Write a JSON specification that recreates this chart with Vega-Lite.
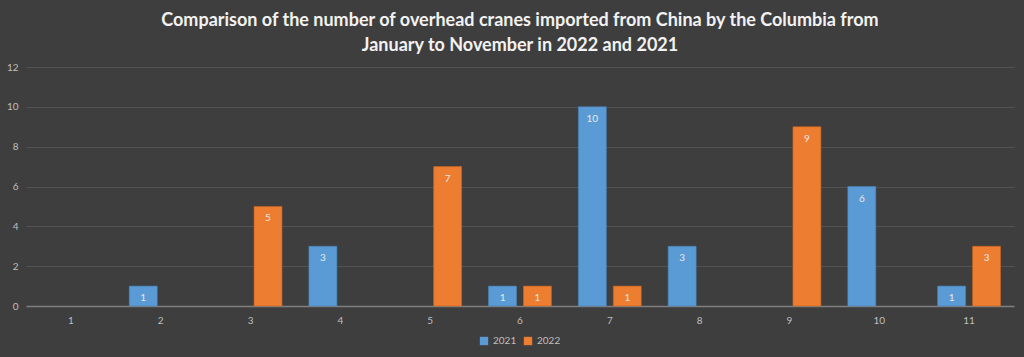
{
  "$schema": "https://vega.github.io/schema/vega-lite/v6.json",
  "autosize": {"type": "fit", "contains": "padding"},
  "width": 1024,
  "height": 357,
  "padding": {"left": 6, "right": 10, "top": 12, "bottom": 11},
  "background": "#3e3e3e",
  "config": {
    "view": {"stroke": null},
    "legend": {"layout": {"bottom": {"anchor": "middle"}}}
  },
  "title": {
    "text": ["Comparison of the number of overhead cranes imported from China by the Columbia from", "January to November in 2022 and 2021"],
    "font": "Lato",
    "fontSize": 18,
    "fontWeight": "bold",
    "color": "#f2f2f2",
    "lineHeight": 25,
    "anchor": "middle",
    "offset": 7
  },
  "data": {
    "values": [
      {"month": 2, "year": "2021", "value": 1},
      {"month": 3, "year": "2022", "value": 5},
      {"month": 4, "year": "2021", "value": 3},
      {"month": 5, "year": "2022", "value": 7},
      {"month": 6, "year": "2021", "value": 1},
      {"month": 6, "year": "2022", "value": 1},
      {"month": 7, "year": "2021", "value": 10},
      {"month": 7, "year": "2022", "value": 1},
      {"month": 8, "year": "2021", "value": 3},
      {"month": 9, "year": "2022", "value": 9},
      {"month": 10, "year": "2021", "value": 6},
      {"month": 11, "year": "2021", "value": 1},
      {"month": 11, "year": "2022", "value": 3}
    ]
  },
  "encoding": {
    "x": {
      "field": "month",
      "type": "ordinal",
      "scale": {"domain": [1, 2, 3, 4, 5, 6, 7, 8, 9, 10, 11], "paddingInner": 0.3, "paddingOuter": 0.15},
      "axis": {
        "title": null,
        "labelAngle": 0,
        "labelColor": "#bfbfbf",
        "labelFont": "Lato",
        "labelFontSize": 10,
        "ticks": false,
        "domainColor": "#7f7f7f",
        "domainWidth": 1.5,
        "labelPadding": 9
      }
    },
    "xOffset": {"field": "year", "type": "nominal", "scale": {"domain": ["2021", "2022"], "paddingInner": 0.2}},
    "y": {
      "field": "value",
      "type": "quantitative",
      "scale": {"domain": [0, 12]},
      "axis": {
        "title": null,
        "values": [0, 2, 4, 6, 8, 10, 12],
        "labelColor": "#bfbfbf",
        "labelFont": "Lato",
        "labelFontSize": 10,
        "ticks": false,
        "domain": false,
        "gridColor": "#525252",
        "gridWidth": 1,
        "labelPadding": 8
      }
    }
  },
  "layer": [
    {
      "mark": {"type": "bar", "strokeWidth": 1, "strokeOpacity": 0.6},
      "encoding": {
        "color": {
          "field": "year",
          "type": "nominal",
          "scale": {"domain": ["2021", "2022"], "range": ["#5b9bd5", "#ed7d31"]},
          "legend": {
            "orient": "bottom",
            "direction": "horizontal",
            "title": null,
            "symbolType": "square",
            "symbolSize": 70,
            "symbolStrokeWidth": 0,
            "labelColor": "#bfbfbf",
            "labelFont": "Lato",
            "labelFontSize": 10,
            "columnPadding": 6,
            "offset": 11
          }
        },
        "stroke": {
          "field": "year",
          "type": "nominal",
          "scale": {"domain": ["2021", "2022"], "range": ["#4a85bb", "#c8661f"]},
          "legend": null
        }
      }
    },
    {
      "mark": {"type": "text", "baseline": "top", "dy": 7, "color": "#e8e8e8", "font": "Lato", "fontSize": 10},
      "encoding": {
        "text": {"field": "value", "type": "quantitative"}
      }
    }
  ]
}
